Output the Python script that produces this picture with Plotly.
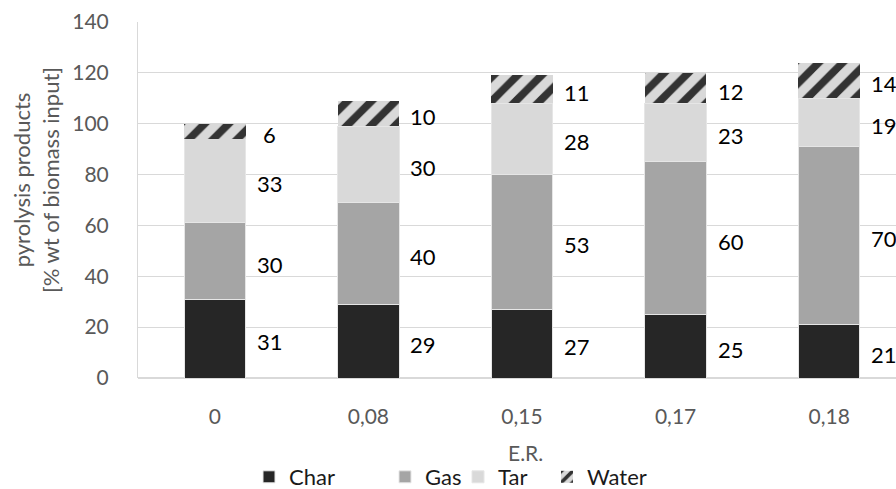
import plotly.graph_objects as go

categories = ["0", "0,08", "0,15", "0,17", "0,18"]
char = [31, 29, 27, 25, 21]
gas = [30, 40, 53, 60, 70]
tar = [33, 30, 28, 23, 19]
water = [6, 10, 11, 12, 14]
y_ticks = [0, 20, 40, 60, 80, 100, 120, 140]

FONT = "Lato"
W, H = 896, 489
L, T, B = 138, 22, 111
plot_w = W - L
cat_px = 153.6

series = [
    ("Char", char, dict(color="#262626", line=dict(color="#e6e6e6", width=1))),
    ("Gas", gas, dict(color="#a5a5a5", line=dict(color="#e6e6e6", width=1))),
    ("Tar", tar, dict(color="#d9d9d9", line=dict(color="#e6e6e6", width=1))),
    ("Water", water, dict(color="#d9d9d9", line=dict(color="#d9d9d9", width=0),
                          pattern=dict(shape="/", fgcolor="#333333", bgcolor="#d9d9d9",
                                       size=17, solidity=0.45, fillmode="replace"))),
]
legend_x_px = [249, 385, 458, 547]

fig = go.Figure()
for i, (name, vals, marker) in enumerate(series):
    lg = "legend" if i == 0 else f"legend{i+1}"
    fig.add_trace(go.Bar(name=name, x=categories, y=vals, marker=marker,
                         legend=lg, hoverinfo="skip"))

# data labels to the right of each stacked segment
annotations = []
for ci, cat in enumerate(categories):
    base = 0
    for name, vals, _ in series:
        v = vals[ci]
        annotations.append(dict(x=cat, y=base + v / 2, xref="x", yref="y", text=str(v),
                                showarrow=False, xshift=55, yshift=-3,
                                xanchor="center", yanchor="middle",
                                font=dict(family=FONT, size=22, color="#000000")))
        base += v

plot_h = H - T - B
annotations.append(dict(xref="paper", yref="paper", x=0, y=(H - B - 180) / plot_h,
                        xshift=-102, xanchor="center", yanchor="middle", showarrow=False,
                        textangle=-90, text="pyrolysis products<br>[% wt of biomass input]",
                        font=dict(family=FONT, size=22, color="#595959")))
annotations.append(dict(xref="paper", yref="paper", x=(525 - L) / plot_w, y=0, yshift=-74,
                        xanchor="center", yanchor="middle", showarrow=False, text="E.R.",
                        font=dict(family=FONT, size=21, color="#595959")))

layout_legends = {}
for i, px in enumerate(legend_x_px):
    key = "legend" if i == 0 else f"legend{i+1}"
    layout_legends[key] = dict(x=(px - L) / plot_w, xanchor="left",
                               y=(H - B - 477) / plot_h, yanchor="middle",
                               orientation="h", bgcolor="rgba(0,0,0,0)",
                               font=dict(family=FONT, size=22, color="#1a1a1a"))

fig.update_layout(
    width=W, height=H, barmode="stack", bargap=0.6,
    margin=dict(l=L, r=0, t=T, b=B, autoexpand=False),
    plot_bgcolor="white", paper_bgcolor="white",
    font=dict(family=FONT),
    showlegend=True,
    annotations=annotations,
    xaxis=dict(range=[-0.5, -0.5 + plot_w / cat_px], showgrid=False, showline=False,
               ticks="", ticklabelstandoff=24, automargin=False,
               tickfont=dict(family=FONT, size=21, color="#595959")),
    yaxis=dict(range=[0, 140], tickvals=y_ticks, showgrid=True, gridcolor="#d9d9d9",
               gridwidth=1, zeroline=True, zerolinecolor="#d9d9d9", showline=True,
               linecolor="#d9d9d9", linewidth=1, ticks="", ticklabelstandoff=24,
               automargin=False,
               tickfont=dict(family=FONT, size=21, color="#595959")),
    **layout_legends,
)
fig.write_html("out.html", config={"displayModeBar": False},
               post_script="document.body.style.margin='0';document.body.style.overflow='hidden';")
